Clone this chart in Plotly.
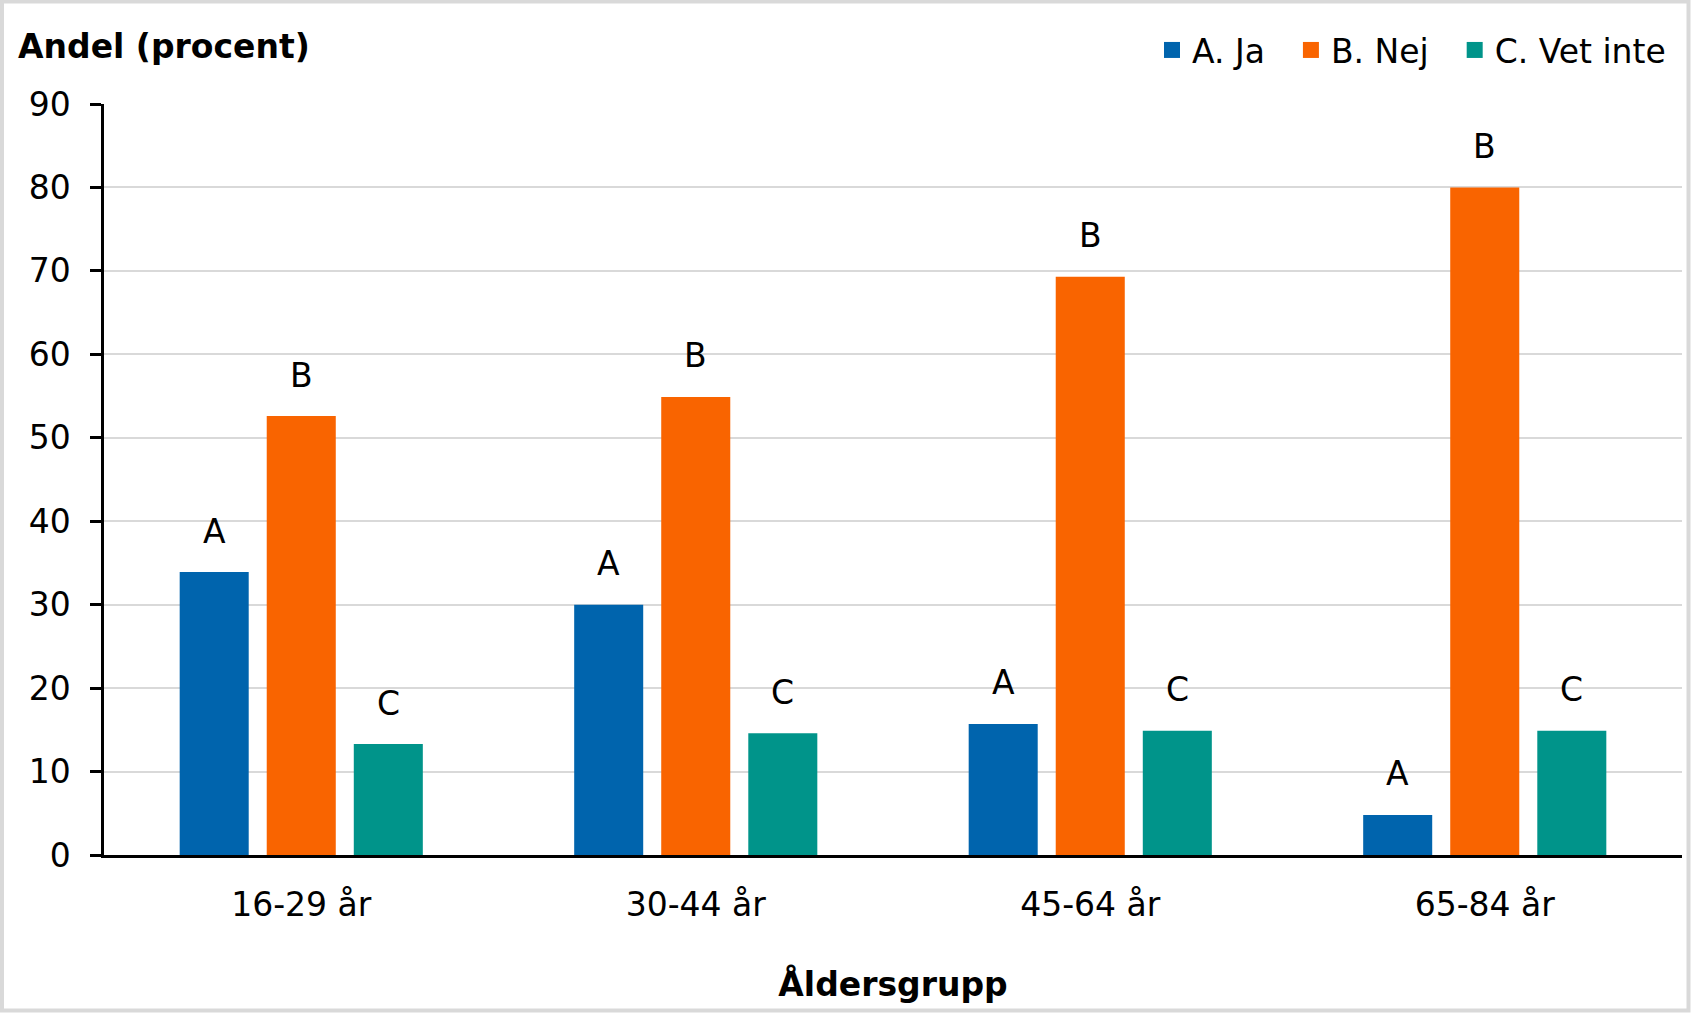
import plotly.graph_objects as go

categories = ["16-29 år", "30-44 år", "45-64 år", "65-84 år"]
series_names = ["A. Ja", "B. Nej", "C. Vet inte"]
series_letters = ["A", "B", "C"]
ja = [33.9, 30.0, 15.7, 4.8]
nej = [52.6, 54.9, 69.3, 80.0]
vet_inte = [13.3, 14.6, 14.9, 14.9]
colors = ["#0064AD", "#F96400", "#00948A"]
y_ticks = [0, 10, 20, 30, 40, 50, 60, 70, 80, 90]

W, H = 1691, 1013
ML, MR, MT, MB = 104, 9, 104, 158
FONT = "DejaVu Sans"
FS = 33

BARGAP = 0.338
BARGROUPGAP = 0.207

fig = go.Figure()
all_series = [ja, nej, vet_inte]
for name, vals, col in zip(series_names, all_series, colors):
    fig.add_trace(go.Bar(x=categories, y=vals, name=name, marker_color=col,
                         marker_line_width=0, hoverinfo="skip", showlegend=False))
# legend entries with larger square swatches (extra spacing between entries)
for i, (name, col) in enumerate(zip(series_names, colors)):
    label = name + ("\u00a0\u00a0" if i < len(series_names) - 1 else "")
    fig.add_trace(go.Scatter(x=[None], y=[None], mode="markers", name=label,
                             marker=dict(symbol="square", size=18, color=col),
                             showlegend=True))

# letter labels above bars, positioned on the category axis
n = len(all_series)
slot = (1 - BARGAP) / n
annotations = []
for si, (vals, letter) in enumerate(zip(all_series, series_letters)):
    off = (si - (n - 1) / 2) * slot
    for ci, v in enumerate(vals):
        annotations.append(dict(x=ci + off, y=v, xref="x", yref="y", text=letter,
                                showarrow=False, yanchor="middle", yshift=41,
                                font=dict(family=FONT, size=FS, color="black")))

pw = W - ML - MR
ph = H - MT - MB
fig.update_layout(
    width=W, height=H,
    margin=dict(l=ML, r=MR, t=MT, b=MB),
    paper_bgcolor="white", plot_bgcolor="white",
    barmode="group", bargap=BARGAP, bargroupgap=BARGROUPGAP,
    font=dict(family=FONT, size=FS, color="black"),
    title=dict(text="<b>Andel (procent)</b>", x=18 / W, xref="container", xanchor="left",
               y=1 - 46 / H, yref="container", yanchor="middle",
               font=dict(family=FONT, size=FS, color="black")),
    legend=dict(orientation="h", x=1 - 11 / pw, xanchor="right", y=(H - MB - 50) / ph, yanchor="middle",
                xref="paper", yref="paper", font=dict(family=FONT, size=FS),
                itemwidth=30, bgcolor="rgba(0,0,0,0)", traceorder="normal"),
    xaxis=dict(type="category", showgrid=False, showline=True, linecolor="black", linewidth=2.5,
               ticks="", tickfont=dict(family=FONT, size=FS), ticklabelstandoff=19,
               title=dict(text="<b>Åldersgrupp</b>", standoff=50,
                          font=dict(family=FONT, size=FS))),
    yaxis=dict(range=[0, 90], tickvals=y_ticks, showgrid=True, gridcolor="#D9D9D9", gridwidth=2,
               showline=True, linecolor="black", linewidth=2.5, ticks="outside", ticklen=11,
               tickwidth=2.5, tickcolor="black", tickfont=dict(family=FONT, size=FS),
               ticklabelstandoff=13, zeroline=False),
    annotations=annotations,
    shapes=[dict(type="rect", xref="paper", yref="paper",
                 x0=-(ML - 2) / pw, x1=1 + (MR - 2.5) / pw,
                 y0=-(MB - 2.5) / ph, y1=1 + (MT - 1.5) / ph,
                 line=dict(color="#D9D9D9", width=4), fillcolor="rgba(0,0,0,0)", layer="below")],
)

fig.write_html("out.html")
